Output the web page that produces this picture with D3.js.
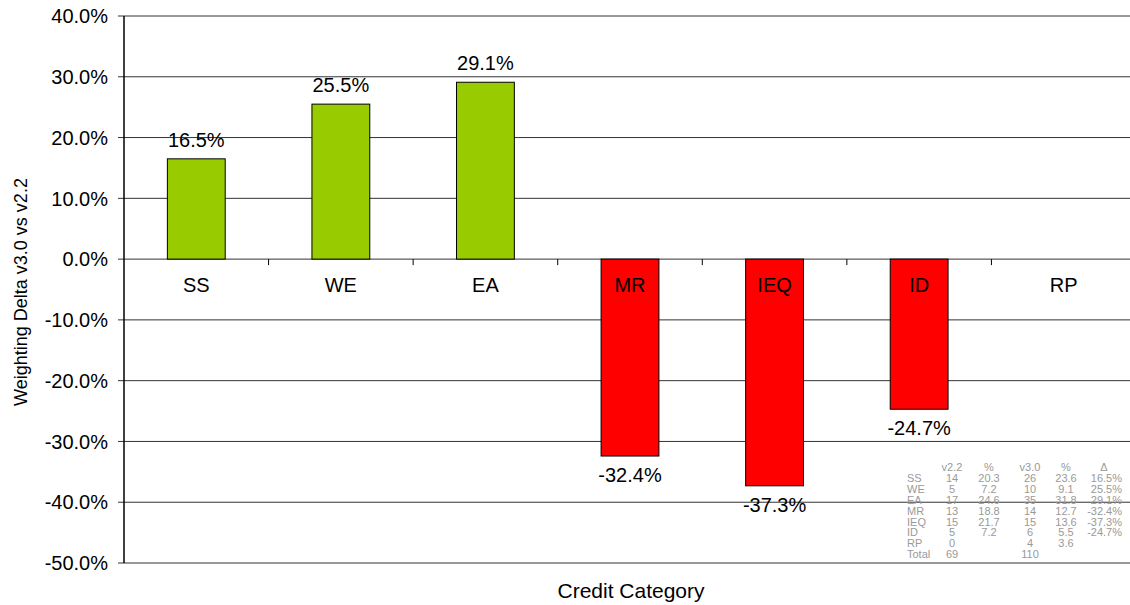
<!DOCTYPE html>
<html>
<head>
<meta charset="utf-8">
<script src="https://cdn.jsdelivr.net/npm/d3@7"></script>
<style>
  body { margin: 0; background: #fff; }
  svg { display: block; font-family: "Liberation Sans", Arial, sans-serif; }
</style>
</head>
<body>
<svg id="chart" width="1130" height="605"></svg>
<script>
// chart data
const categories = ['SS', 'WE', 'EA', 'MR', 'IEQ', 'ID', 'RP'];
const deltas = [16.5, 25.5, 29.1, -32.4, -37.3, -24.7, null];
const yTicks = [40, 30, 20, 10, 0, -10, -20, -30, -40, -50];

// little summary table in the corner
const tableHeader = ['', 'v2.2', '%', 'v3.0', '%', 'Δ'];
const tableLabels = ['SS', 'WE', 'EA', 'MR', 'IEQ', 'ID', 'RP', 'Total'];
const v22 = ['14', '5', '17', '13', '15', '5', '0', '69'];
const pct22 = ['20.3', '7.2', '24.6', '18.8', '21.7', '7.2', '', ''];
const v30 = ['26', '10', '35', '14', '15', '6', '4', '110'];
const pct30 = ['23.6', '9.1', '31.8', '12.7', '13.6', '5.5', '3.6', ''];
const deltaText = ['16.5%', '25.5%', '29.1%', '-32.4%', '-37.3%', '-24.7%', '', ''];

const width = 1130;
const height = 605;
const margin = { left: 124, top: 16, right: -6, bottom: 42 };

const svg = d3.select('#chart');

let x = d3.scaleBand()
  .domain(categories)
  .range([margin.left, width - margin.right])
  .paddingInner(0.6)
  .paddingOuter(0.3);

let y = d3.scaleLinear()
  .domain([40, -50])
  .range([margin.top, height - margin.bottom]);

const fmt = d => d.toFixed(1) + '%';

//gridlines
svg.append('g')
  .selectAll('line')
  .data(yTicks)
  .enter()
  .append('line')
    .attr('x1', margin.left - 6)
    .attr('x2', width)
    .attr('y1', d => y(d))
    .attr('y2', d => y(d))
    .attr('stroke', '#333')
    .attr('stroke-width', 1);

// y tick labels
svg.append('g')
  .selectAll('text')
  .data(yTicks)
  .enter()
  .append('text')
    .attr('x', margin.left - 16)
    .attr('y', d => y(d))
    .attr('dy', '0.36em')
    .attr('text-anchor', 'end')
    .attr('font-size', 20)
    .attr('fill', '#000')
    .text(fmt);

// bars
const bars = categories.map((c, i) => ({ cat: c, value: deltas[i] })).filter(d => d.value !== null);

svg.append('g')
  .selectAll('rect')
  .data(bars)
  .enter()
  .append('rect')
    .attr('x', d => x(d.cat))
    .attr('width', x.bandwidth())
    .attr('y', d => y(Math.max(0, d.value)))
    .attr('height', d => Math.abs(y(d.value) - y(0)))
    .attr('fill', d => d.value >= 0 ? '#99cc00' : '#ff0000')
    .attr('stroke', '#000')
    .attr('stroke-width', 1);

// zero line ticks at category boundaries
svg.append('g')
  .selectAll('line')
  .data(d3.range(1, categories.length))
  .enter()
  .append('line')
    .attr('x1', i => margin.left + i * x.step())
    .attr('x2', i => margin.left + i * x.step())
    .attr('y1', y(0))
    .attr('y2', y(0) + 6)
    .attr('stroke', '#000');

// y axis line
svg.append('line')
  .attr('x1', margin.left).attr('x2', margin.left)
  .attr('y1', y(40)).attr('y2', y(-50))
  .attr('stroke', '#000')
  .attr('stroke-width', 1.5);

// category labels
svg.append('g')
  .selectAll('text')
  .data(categories)
  .enter()
  .append('text')
    .attr('x', d => x(d) + x.bandwidth() / 2)
    .attr('y', y(0) + 33)
    .attr('text-anchor', 'middle')
    .attr('font-size', 20)
    .text(d => d);

// value labels
svg.append('g')
  .selectAll('text')
  .data(bars)
  .enter()
  .append('text')
    .attr('x', d => x(d.cat) + x.bandwidth() / 2)
    .attr('y', d => d.value >= 0 ? y(d.value) - 12 : y(d.value) + 26)
    .attr('text-anchor', 'middle')
    .attr('font-size', 20)
    .text(d => fmt(d.value));

// axis titles
svg.append('text')
  .attr('x', 631)
  .attr('y', 598)
  .attr('text-anchor', 'middle')
  .attr('font-size', 21)
  .text('Credit Category');

svg.append('text')
  .attr('transform', 'translate(27,' + 292 + ') rotate(-90)')
  .attr('text-anchor', 'middle')
  .attr('font-size', 18)
  .text('Weighting Delta v3.0 vs v2.2');

// table
const colX = [907, 952, 989, 1030, 1066, 1122];
const colAnchor = ['start', 'middle', 'middle', 'middle', 'middle', 'end'];
const rowH = 10.9;
const tableTop = 471;

const tableRows = [tableHeader].concat(tableLabels.map((l, i) => [l, v22[i], pct22[i], v30[i], pct30[i], deltaText[i]]));

let table = svg.append('g')
  .attr('font-size', 11)
  .attr('fill', '#999');

tableRows.forEach((row, r) => {
  table.selectAll('text.r' + r)
    .data(row)
    .enter()
    .append('text')
      .attr('class', 'r' + r)
      .attr('x', (d, i) => (r === 0 && i === 5) ? 1104 : colX[i])
      .attr('y', tableTop + r * rowH)
      .attr('text-anchor', (d, i) => (r === 0 && i === 5) ? 'middle' : colAnchor[i])
      .text(d => d);
});
</script>
</body>
</html>
